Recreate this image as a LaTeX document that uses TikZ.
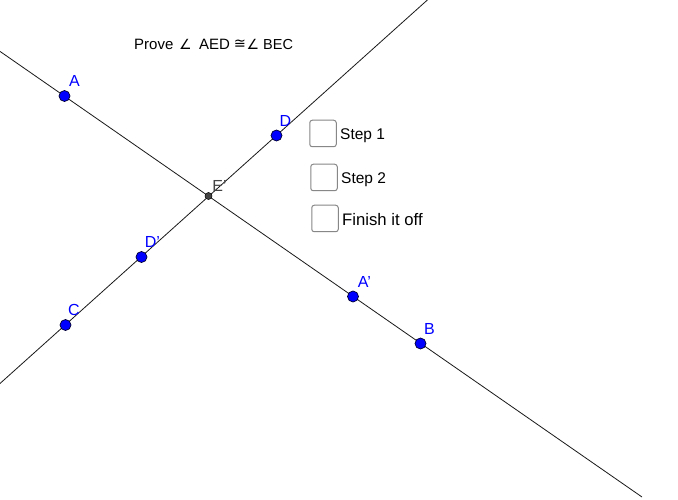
\documentclass[tikz,border=0pt]{standalone}
\usepackage{fontspec}
\setmainfont{Liberation Sans}
\newfontfamily\symfont{DejaVu Sans}
\definecolor{ptblue}{RGB}{0,0,255}
\definecolor{ptdark}{RGB}{68,68,68}
\definecolor{boxgray}{RGB}{135,135,135}
\tikzset{
  pt/.style={circle,draw=black!80!ptblue,line width=0.7pt,fill=ptblue,inner sep=0pt,minimum size=11pt},
  ptlabel/.style={text=ptblue,font=\fontsize{16}{16}\selectfont,inner sep=0pt},
  gline/.style={line width=0.8pt,black!90},
  checkbox/.style={draw=boxgray,line width=1pt,rounded corners=2.5pt,fill=white,inner sep=0pt,minimum size=26.5pt},
  boxtext/.style={font=\fontsize{15.5}{15.5}\selectfont,inner sep=0pt,anchor=west},
  headtext/.style={font=\fontsize{15}{15}\selectfont,inner sep=0pt,anchor=west}
}
\begin{document}
\begin{tikzpicture}[x=1pt,y=-1pt]
\useasboundingbox (0,0) rectangle (678,500);
\fill[white] (0,0) rectangle (678,500);
\coordinate (l1a) at (0,51.4);
\coordinate (l1b) at (642,497);
\coordinate (l2a) at (0,383.5);
\coordinate (l2b) at (428.5,-1);
\draw[gline] (l1a) -- (l1b);
\draw[gline] (l2a) -- (l2b);
\node[pt] (A) at (64.5,96) {};
\node[pt] (B) at (420.5,343.5) {};
\node[pt] (C) at (65.5,325) {};
\node[pt] (D) at (276.5,135.5) {};
\node[pt] (Dp) at (141.5,257) {};
\node[pt] (Ap) at (353,296.5) {};
\node[circle,draw=black,line width=0.5pt,fill=ptdark,inner sep=0pt,minimum size=7pt] (E) at (208.5,196) {};
\node[ptlabel] (lA) at (74.5,81) {A};
\node[ptlabel] (lB) at (429.5,328.5) {B};
\node[ptlabel] (lC) at (74,310) {C};
\node[ptlabel] (lD) at (285.5,121) {D};
\node[ptlabel] (lDp) at (152.5,241.5) {D'};
\node[ptlabel] (lAp) at (364.5,281.5) {A'};
\node[ptlabel,text=ptdark] (lE) at (219.5,186) {E'};
\node[headtext] (t1) at (134,44.5) {Prove};
\node[inner sep=0pt,font=\symfont\fontsize{14}{14}\selectfont] (t2) at (185.5,44.5) {∠};
\node[headtext] (t3) at (199,44.5) {AED};
\node[inner sep=0pt,font=\symfont\fontsize{14.5}{14.5}\selectfont] (t4) at (240,44.5) {≅};
\node[inner sep=0pt,font=\symfont\fontsize{14}{14}\selectfont] (t5) at (253,44.5) {∠};
\node[inner sep=0pt,anchor=west,font=\fontsize{14.5}{14.5}\selectfont] (t6) at (263,44.5) {BEC};
\node[checkbox] (b1) at (323,133.5) {};
\node[checkbox] (b2) at (324,177.5) {};
\node[checkbox] (b3) at (325,218.5) {};
\node[boxtext] (s1) at (340,136) {Step 1};
\node[boxtext] (s2) at (341,180) {Step 2};
\node[inner sep=0pt,anchor=west,font=\fontsize{16.7}{16.7}\selectfont] (s3) at (342,219.5) {Finish it off};
\end{tikzpicture}
\end{document}
